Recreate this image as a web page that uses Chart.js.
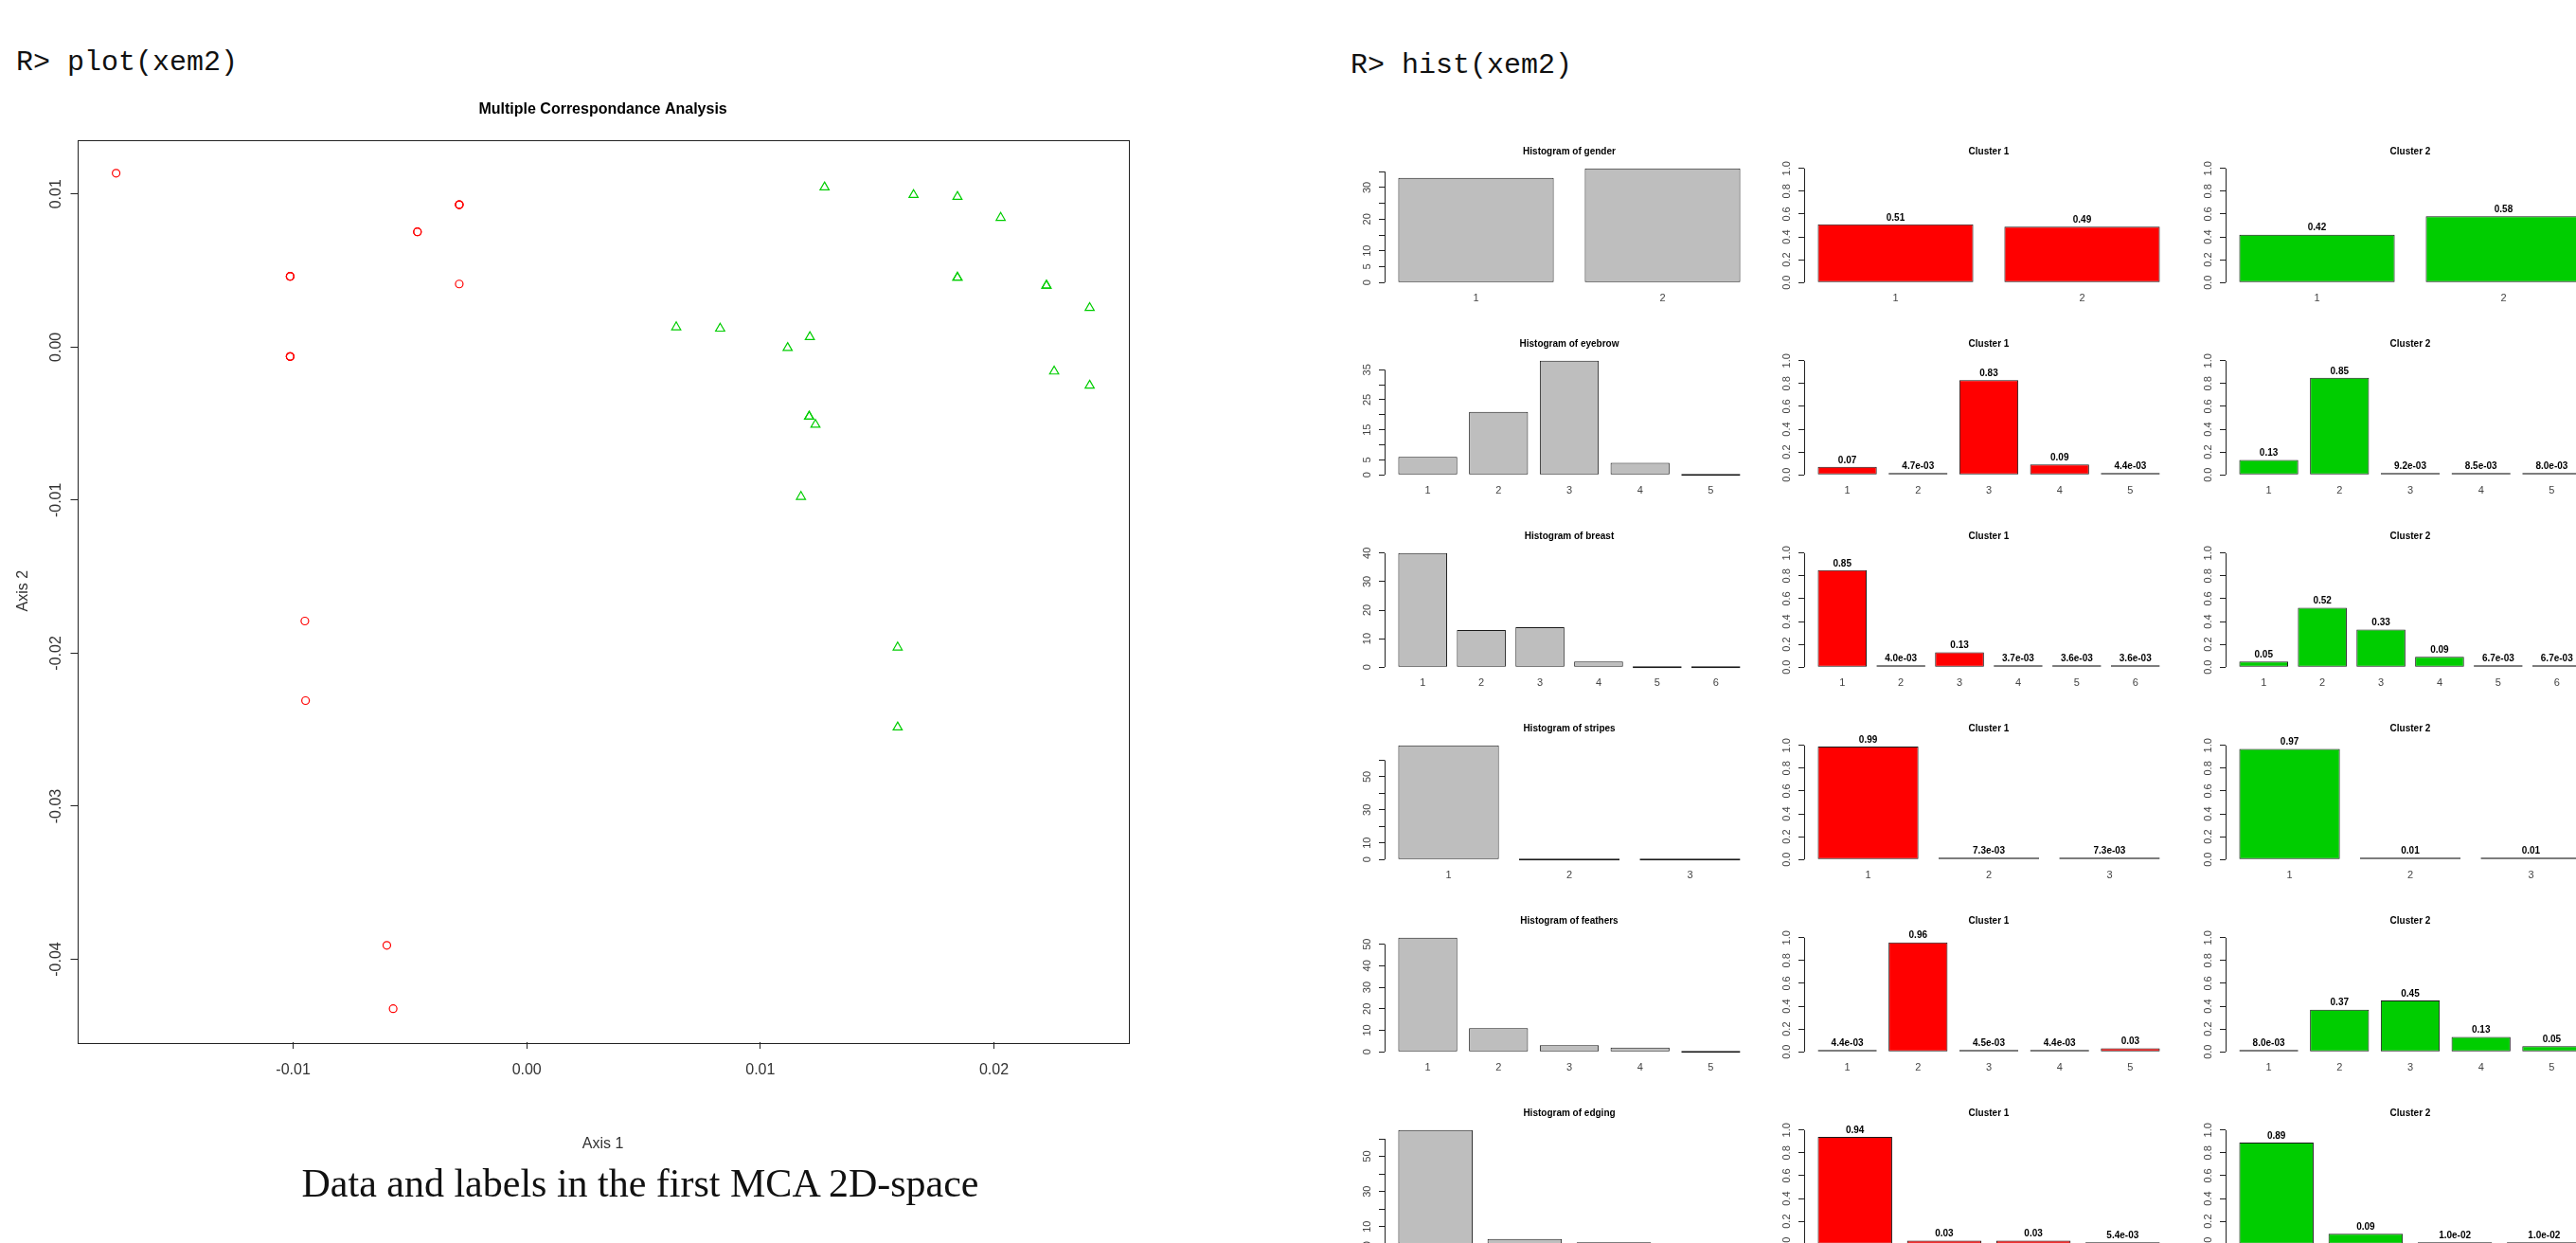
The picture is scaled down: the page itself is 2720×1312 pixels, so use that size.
<!DOCTYPE html>
<html lang="en">
<head>
<meta charset="UTF-8">
<title>xem2 plots</title>
<script src="https://cdn.jsdelivr.net/npm/chart.js"></script>
<style>
  html, body { margin: 0; padding: 0; background: #fff; }
  body { width: 2720px; height: 1312px; position: relative; overflow: hidden; font-family: "Liberation Sans", Arial, sans-serif; }
  .cmd { position: absolute; font-family: "Liberation Mono", "DejaVu Sans Mono", monospace; font-size: 30px; line-height: 36px; color: #111; white-space: pre; }
  .cell { position: absolute; }
  #caption { position: absolute; left: 0; width: 1352px; top: 1224px; text-align: center; font-family: "Liberation Serif", "DejaVu Serif", serif; font-size: 42px; line-height: 50px; color: #111; }
</style>
</head>
<body>
<div class="cmd" style="left:17px; top:48px">R&gt; plot(xem2)</div>
<div class="cmd" style="left:1426px; top:51px">R&gt; hist(xem2)</div>
<div class="cell" style="left:0; top:100px"><canvas id="scatter" width="1240" height="1140"></canvas></div>
<div id="caption">Data and labels in the first MCA 2D-space</div>
<div id="hists"></div>

<script>
// ---- MCA coordinates ----
const redX = [-0.01758, -0.01013, -0.01013, -0.01013, -0.01013, -0.01013, -0.01013, -0.00468, -0.00468,
              -0.00289, -0.00289, -0.00289, -0.00289, -0.00950, -0.00947, -0.00599, -0.00572];
const redY = [0.01136, 0.00462, 0.00462, 0.00462, -0.00062, -0.00062, -0.00062, 0.00753, 0.00753,
              0.00930, 0.00930, 0.00930, 0.00412, -0.01790, -0.02310, -0.03909, -0.04323];
const greenX = [0.00640, 0.00828, 0.01117, 0.01212, 0.01275, 0.01209, 0.01209, 0.01236, 0.01174, 0.01656,
                0.01844, 0.01844, 0.01844, 0.02029, 0.02225, 0.02225, 0.02258, 0.02410, 0.02410, 0.01588, 0.01588];
const greenY = [0.00130, 0.00121, -0.00005, 0.00066, 0.01044, -0.00454, -0.00454, -0.00507, -0.00978, 0.00994,
                0.00982, 0.00454, 0.00454, 0.00845, 0.00402, 0.00402, -0.00159, 0.00256, -0.00251, -0.01962, -0.02484];
const axis1Ticks = [-0.01, 0, 0.01, 0.02];
const axis1Labels = ['-0.01', '0.00', '0.01', '0.02'];
const axis2Ticks = [0.01, 0, -0.01, -0.02, -0.03, -0.04];
const axis2Labels = ['0.01', '0.00', '-0.01', '-0.02', '-0.03', '-0.04'];

// ---- histograms: counts per modality ----
const variables = ['gender', 'eyebrow', 'breast', 'stripes', 'feathers', 'edging'];
const genderCounts = [33, 36];
const eyebrowCounts = [6, 21, 38, 4, 0];
const breastCounts = [40, 13, 14, 2, 0, 0];
const stripesCounts = [69, 0, 0];
const feathersCounts = [53, 11, 3, 2, 0];
const edgingCounts = [65, 3, 1, 0];

// cluster 1 / cluster 2 modality probabilities
const c1Gender = [0.51, 0.49];
const c1Eyebrow = [0.07, 0.0047, 0.83, 0.09, 0.0044];
const c1Breast = [0.85, 0.0040, 0.13, 0.0037, 0.0036, 0.0036];
const c1Stripes = [0.99, 0.0073, 0.0073];
const c1Feathers = [0.0044, 0.96, 0.0045, 0.0044, 0.03];
const c1Edging = [0.94, 0.03, 0.03, 0.0054];

const c2Gender = [0.42, 0.58];
const c2Eyebrow = [0.13, 0.85, 0.0092, 0.0085, 0.0080];
const c2Breast = [0.05, 0.52, 0.33, 0.09, 0.0067, 0.0067];
const c2Stripes = [0.97, 0.0102, 0.0102];
const c2Feathers = [0.0080, 0.37, 0.45, 0.13, 0.05];
const c2Edging = [0.89, 0.09, 0.00996, 0.00996];

// count axes: top tick, step, and which ticks R kept a label on
const countTickTop = [35, 35, 40, 60, 50, 60];
const countTickStep = [5, 5, 10, 10, 10, 10];
const countTickShown = [[0, 5, 10, 20, 30], [0, 5, 15, 25, 35], [0, 10, 20, 30, 40],
                        [0, 10, 30, 50], [0, 10, 20, 30, 40, 50], [0, 10, 30, 50]];
const probTicks = [0, 0.2, 0.4, 0.6, 0.8, 1.0];

const countRows = [genderCounts, eyebrowCounts, breastCounts, stripesCounts, feathersCounts, edgingCounts];
const c1Rows = [c1Gender, c1Eyebrow, c1Breast, c1Stripes, c1Feathers, c1Edging];
const c2Rows = [c2Gender, c2Eyebrow, c2Breast, c2Stripes, c2Feathers, c2Edging];

const SANS = '"Liberation Sans", Arial, sans-serif';
const RED = '#FF0000', GREEN = '#00CD00', GREY = '#BEBEBE';
Chart.defaults.font.family = SANS;

function fmtProb(v) {
    if (v < 0.01) return v.toExponential(1).replace(/e([+-])(\d)$/, 'e$10$2');
    return v.toFixed(2);
}

// R-style base graphics bits: axis line between end ticks, rotated y labels, title, bar labels
function rBase(spec) {
    return {
        id: 'rbase',
        afterDraw(chart) {
            const { ctx, chartArea: a, scales: { y } } = chart;
            ctx.save();
            ctx.strokeStyle = '#222';
            ctx.lineWidth = 1;
            if (spec.box) {
                ctx.strokeRect(Math.round(a.left) + 0.5, Math.round(a.top) + 0.5,
                    Math.round(a.right - a.left), Math.round(a.bottom - a.top));
            } else {
                const ax = Math.round(a.left) + 0.5;
                ctx.beginPath();
                ctx.moveTo(ax, y.getPixelForValue(spec.yTicks[0]));
                ctx.lineTo(ax, y.getPixelForValue(spec.yTicks[spec.yTicks.length - 1]));
                ctx.stroke();
            }
            ctx.fillStyle = spec.tickColor;
            ctx.font = spec.tickFont;
            ctx.textAlign = 'center';
            ctx.textBaseline = 'middle';
            spec.yShown.forEach((v, i) => {
                ctx.save();
                ctx.translate(a.left - spec.labelGap, y.getPixelForValue(v));
                ctx.rotate(-Math.PI / 2);
                ctx.fillText(spec.yLabels[i], 0, 0);
                ctx.restore();
            });
            ctx.fillStyle = '#000';
            ctx.font = spec.titleFont;
            ctx.fillText(spec.title, (a.left + a.right) / 2, a.top - spec.titleGap);
            if (spec.valueLabels) {
                ctx.font = 'bold 10px ' + SANS;
                chart.getDatasetMeta(0).data.forEach((bar, i) => {
                    ctx.fillText(spec.valueLabels[i], bar.x, Math.min(bar.y, bar.base) - 7);
                });
            }
            ctx.restore();
        }
    };
}

// ---------------- scatter ----------------
function extent(arr) { return [Math.min(...arr), Math.max(...arr)]; }
const xr = extent(redX.concat(greenX));
const yr = extent(redY.concat(greenY));
const xPad = 0.04 * (xr[1] - xr[0]), yPad = 0.04 * (yr[1] - yr[0]);

new Chart(document.getElementById('scatter'), {
    type: 'scatter',
    data: {
        datasets: [
            { data: redX.map((x, i) => ({ x, y: redY[i] })), pointStyle: 'circle', radius: 4,
              borderColor: RED, backgroundColor: 'rgba(0,0,0,0)', borderWidth: 1.2 },
            { data: greenX.map((x, i) => ({ x, y: greenY[i] })), pointStyle: 'triangle', radius: 5.5,
              borderColor: GREEN, backgroundColor: 'rgba(0,0,0,0)', borderWidth: 1.2 }
        ]
    },
    options: {
        responsive: false, animation: false, devicePixelRatio: 1,
        layout: { padding: { left: 0, top: 47.5, right: 48.3, bottom: 0 } },
        plugins: { legend: { display: false }, tooltip: { enabled: false } },
        scales: {
            x: {
                type: 'linear', min: xr[0] - xPad, max: xr[1] + xPad,
                afterBuildTicks: s => { s.ticks = axis1Ticks.map(v => ({ value: v })); },
                afterFit: s => { s.height = 140; },
                ticks: { callback: (v, i) => axis1Labels[i], font: { size: 16, lineHeight: 1.2 }, color: '#333', padding: 13 },
                grid: { display: true, drawOnChartArea: false, drawTicks: true, tickLength: 7, color: '#222' },
                border: { display: false },
                title: { display: true, text: 'Axis 1', color: '#333', font: { size: 16, lineHeight: 1.2 }, padding: { top: 0, bottom: 22.4 } }
            },
            y: {
                type: 'linear', min: yr[0] - yPad, max: yr[1] + yPad,
                afterBuildTicks: s => { s.ticks = axis2Ticks.map(v => ({ value: v })); },
                afterFit: s => { s.width = 81.5; },
                ticks: { display: false },
                grid: { display: true, drawOnChartArea: false, drawTicks: true, tickLength: 7, color: '#222' },
                border: { display: false },
                title: { display: true, text: 'Axis 2', color: '#333', font: { size: 16, lineHeight: 1.2 }, padding: { top: 15, bottom: 0 } }
            }
        }
    },
    plugins: [rBase({ box: true, yShown: axis2Ticks, yLabels: axis2Labels, labelGap: 22, tickColor: '#333',
                      tickFont: '16px ' + SANS, title: 'Multiple Correspondance Analysis',
                      titleFont: 'bold 16px ' + SANS, titleGap: 31.5 })]
});

// ---------------- histogram grid ----------------
const cellLeft = [1412, 1855, 2300];
const cellTop0 = 123, rowStep = 203;
const host = document.getElementById('hists');

function barChart(values, col, row, kind) {
    const n = values.length;
    const centers = values.map((_, i) => 0.7 + 1.2 * i);       // barplot() positions
    const span = 1.2 * n - 0.2;
    let yTicks, yShown, yLabels, top, color, title, valueLabels = null;
    if (kind === 'count') {
        top = Math.max(...values);
        yTicks = [];
        for (let t = 0; t <= countTickTop[row]; t += countTickStep[row]) yTicks.push(t);
        yShown = countTickShown[row];
        yLabels = yShown.map(String);
        color = GREY;
        title = 'Histogram of ' + variables[row];
    } else {
        top = 1;
        yTicks = probTicks;
        yShown = probTicks;
        yLabels = probTicks.map(v => v.toFixed(1));
        color = kind === 'c1' ? RED : GREEN;
        title = kind === 'c1' ? 'Cluster 1' : 'Cluster 2';
        valueLabels = values.map(fmtProb);
    }

    const div = document.createElement('div');
    div.className = 'cell';
    div.style.left = cellLeft[col] + 'px';
    div.style.top = (cellTop0 + rowStep * row) + 'px';
    const cv = document.createElement('canvas');
    cv.width = 444; cv.height = 203;
    div.appendChild(cv);
    host.appendChild(div);

    new Chart(cv, {
        type: 'bar',
        data: {
            datasets: [{
                data: values.map((v, i) => ({ x: centers[i], y: v })),
                backgroundColor: color, borderColor: '#1a1a1a', borderWidth: 1,
                borderSkipped: false, minBarLength: 2,
                categoryPercentage: 1 / 1.2, barPercentage: 1
            }]
        },
        options: {
            responsive: false, animation: false, devicePixelRatio: 1,
            layout: { padding: { left: 0, top: 50, right: 4, bottom: 0 } },
            plugins: { legend: { display: false }, tooltip: { enabled: false } },
            scales: {
                x: {
                    type: 'linear', offset: false, bounds: 'data',
                    min: 0.2 - 0.04 * span, max: 1.2 * n + 0.04 * span,
                    afterBuildTicks: s => { s.ticks = centers.map(v => ({ value: v })); },
                    afterFit: s => { s.height = 23; },
                    ticks: { callback: (v, i) => String(i + 1), font: { size: 11, lineHeight: 1.2 }, color: '#444', padding: 5.5 },
                    grid: { display: false, drawTicks: false, offset: false },
                    border: { display: false }
                },
                y: {
                    type: 'linear', min: -0.04 * top, max: 1.04 * top,
                    afterBuildTicks: s => { s.ticks = yTicks.map(v => ({ value: v })); },
                    afterFit: s => { s.width = 50; },
                    ticks: { display: false },
                    grid: { display: true, drawOnChartArea: false, drawTicks: true, tickLength: 6, color: '#222' },
                    border: { display: false }
                }
            }
        },
        plugins: [rBase({ yTicks, yShown, yLabels, labelGap: 18.5, tickFont: '11px ' + SANS, tickColor: '#444',
                          title, titleFont: 'bold 10px ' + SANS, titleGap: 12.5, valueLabels })]
    });
}

countRows.forEach((vals, r) => barChart(vals, 0, r, 'count'));
c1Rows.forEach((vals, r) => barChart(vals, 1, r, 'c1'));
c2Rows.forEach((vals, r) => barChart(vals, 2, r, 'c2'));
</script>
</body>
</html>
